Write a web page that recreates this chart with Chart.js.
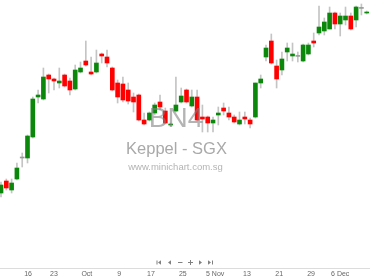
<!DOCTYPE html>
<html>
<head>
<meta charset="utf-8">
<script src="https://cdn.jsdelivr.net/npm/chart.js@4.4.1/dist/chart.umd.min.js"></script>
<style>
  html, body { margin: 0; padding: 0; background: #fff; }
  #wrap { width: 370px; height: 278px; }
</style>
</head>
<body>
<div id="wrap"><canvas id="candles" width="370" height="278"></canvas></div>
<script>
// BN4 daily candles, Sep - Dec.
var OPEN  = [6.335, 6.395, 6.35, 6.405, 6.51, 6.51, 6.615, 6.815, 6.805, 6.925,
             6.905, 6.885, 6.925, 6.895, 6.855, 6.94, 6.995, 6.94, 6.94, 7.03,
             7.015, 6.96, 6.885, 6.88, 6.85, 6.815, 6.825, 6.70, 6.70, 6.735,
             6.79, 6.745, 6.675, 6.745, 6.79, 6.85, 6.77, 6.815, 6.715, 6.715,
             6.685, 6.725, 6.76, 6.735, 6.715, 6.68, 6.715, 6.70, 6.715, 6.885,
             7.015, 7.095, 6.97, 6.95, 7.04, 7.02, 7.018, 6.995, 7.03, 7.095,
             7.135, 7.145, 7.155, 7.235, 7.18, 7.20, 7.22, 7.20, 7.258, 7.235];
var HIGH  = [6.39, 6.405, 6.405, 6.485, 6.535, 6.625, 6.815, 6.85, 6.96, 6.93,
             6.91, 6.96, 6.93, 6.91, 6.975, 6.99, 7.095, 7.015, 7.05, 7.035,
             7.05, 6.965, 6.90, 6.915, 6.885, 6.835, 6.83, 6.735, 6.74, 6.785,
             6.825, 6.76, 6.685, 6.915, 6.86, 6.855, 6.85, 6.85, 6.775, 6.72,
             6.715, 6.765, 6.785, 6.765, 6.725, 6.74, 6.74, 6.71, 6.885, 6.925,
             7.075, 7.13, 7.00, 7.04, 7.085, 7.085, 7.04, 7.08, 7.085, 7.135,
             7.27, 7.21, 7.265, 7.24, 7.235, 7.265, 7.235, 7.27, 7.28, 7.245];
var LOW   = [6.315, 6.35, 6.335, 6.40, 6.465, 6.485, 6.61, 6.785, 6.80, 6.835,
             6.85, 6.86, 6.865, 6.825, 6.85, 6.935, 6.97, 6.925, 6.935, 6.985,
             6.965, 6.845, 6.785, 6.79, 6.78, 6.74, 6.695, 6.675, 6.695, 6.725,
             6.75, 6.68, 6.67, 6.74, 6.785, 6.785, 6.765, 6.695, 6.64, 6.64,
             6.64, 6.675, 6.725, 6.70, 6.685, 6.675, 6.68, 6.66, 6.71, 6.86,
             6.995, 6.98, 6.86, 6.925, 6.995, 6.995, 6.99, 6.99, 7.025, 7.065,
             7.125, 7.125, 7.155, 7.155, 7.12, 7.175, 7.15, 7.165, 7.225, 7.23];
var CLOSE = [6.375, 6.36, 6.385, 6.46, 6.51, 6.62, 6.805, 6.825, 6.915, 6.905,
             6.895, 6.895, 6.87, 6.85, 6.95, 6.96, 6.975, 6.93, 6.985, 7.02,
             6.985, 6.85, 6.815, 6.80, 6.795, 6.79, 6.70, 6.68, 6.735, 6.775,
             6.765, 6.685, 6.68, 6.775, 6.82, 6.79, 6.815, 6.70, 6.705, 6.685,
             6.70, 6.735, 6.745, 6.715, 6.69, 6.70, 6.705, 6.68, 6.885, 6.905,
             7.06, 6.985, 6.905, 7.005, 7.06, 7.03, 7.018, 7.075, 7.075, 7.085,
             7.165, 7.19, 7.235, 7.18, 7.22, 7.22, 7.155, 7.265, 7.258, 7.24];

// date labels along the bottom, placed at candle index positions
var TICK_POS    = [5.1, 10, 16.2, 22.3, 28.3, 34.3, 40.4, 46.4, 52.5, 58.5, 64];
var TICK_LABELS = ['16', '23', 'Oct', '9', '17', '25', '5 Nov', '13', '21', '29', '6 Dec'];

var SYMBOL = 'BN4';
var TITLE = 'Keppel - SGX';
var SITE = 'www.minichart.com.sg';

(function() {
  var UP = '#0b880b', DOWN = '#ff0000', FLAT = '#9a9a9a', WICK = '#c4c4c4';
  var FONT = '"Liberation Sans", Arial, sans-serif';

  var wicks = OPEN.map(function(o, i) { return { x: i, y: [LOW[i], HIGH[i]] }; });
  var bodies = OPEN.map(function(o, i) { return { x: i, y: [o, CLOSE[i]] }; });
  var bodyColors = OPEN.map(function(o, i) {
    return CLOSE[i] > o ? UP : (CLOSE[i] < o ? DOWN : FLAT);
  });

  // watermark text + the little navigation buttons under the plot
  var overlay = {
    id: 'overlay',
    afterDatasetsDraw: function(chart) {
      var ctx = chart.ctx;
      ctx.save();
      ctx.textAlign = 'center';
      ctx.textBaseline = 'alphabetic';
      ctx.fillStyle = 'rgba(130,130,130,0.6)';
      ctx.font = '28px ' + FONT;
      ctx.fillText(SYMBOL, 176, 127);
      ctx.fillStyle = '#a9a9a9';
      ctx.font = '16.5px ' + FONT;
      ctx.fillText(TITLE, 176.5, 154);
      ctx.fillStyle = '#b4b4b4';
      ctx.font = '9.5px ' + FONT;
      ctx.fillText(SITE, 175.5, 170);

      var y = 262.5;
      ctx.fillStyle = '#808080';
      function tri(x0, x1) {
        ctx.beginPath();
        ctx.moveTo(x0, y - 2.2);
        ctx.lineTo(x0, y + 2.2);
        ctx.lineTo(x1, y);
        ctx.closePath();
        ctx.fill();
      }
      ctx.fillRect(156.5, y - 2, 1, 4); tri(161, 158);
      tri(171, 168);
      ctx.fillRect(178, y - 0.5, 4.5, 1);
      ctx.fillRect(188, y - 0.5, 5, 1); ctx.fillRect(190, y - 2.5, 1, 5);
      tri(199, 202);
      tri(208, 211); ctx.fillRect(212, y - 2, 1, 4);
      ctx.restore();
    }
  };

  new Chart(document.getElementById('candles'), {
    type: 'bar',
    data: {
      datasets: [
        {
          data: bodies,
          backgroundColor: bodyColors,
          borderWidth: 0,
          barThickness: 4,
          minBarLength: 1,
          grouped: false,
          order: 1
        },
        {
          data: wicks,
          backgroundColor: WICK,
          borderWidth: 0,
          barThickness: 1,
          grouped: false,
          order: 2
        }
      ]
    },
    options: {
      responsive: false,
      animation: false,
      events: [],
      layout: { padding: 0 },
      plugins: { legend: { display: false }, tooltip: { enabled: false } },
      scales: {
        x: {
          type: 'linear',
          min: -0.19,
          max: 69.62,
          offset: false,
          grid: { display: false, drawTicks: false },
          border: { display: true, color: '#dcdcdc' },
          afterFit: function(scale) {
            scale.height = 10;
            scale.paddingLeft = 0;
            scale.paddingRight = 0;
          },
          afterBuildTicks: function(scale) {
            scale.ticks = TICK_POS.map(function(v) { return { value: v }; });
          },
          ticks: {
            autoSkip: false,
            maxRotation: 0,
            padding: 2,
            color: '#666',
            font: { family: FONT, size: 7 },
            callback: function(v) {
              var k = TICK_POS.indexOf(v);
              return k < 0 ? '' : TICK_LABELS[k];
            }
          }
        },
        y: { display: false, min: 5.96, max: 7.30 }
      }
    },
    plugins: [overlay]
  });
})();
</script>
</body>
</html>
